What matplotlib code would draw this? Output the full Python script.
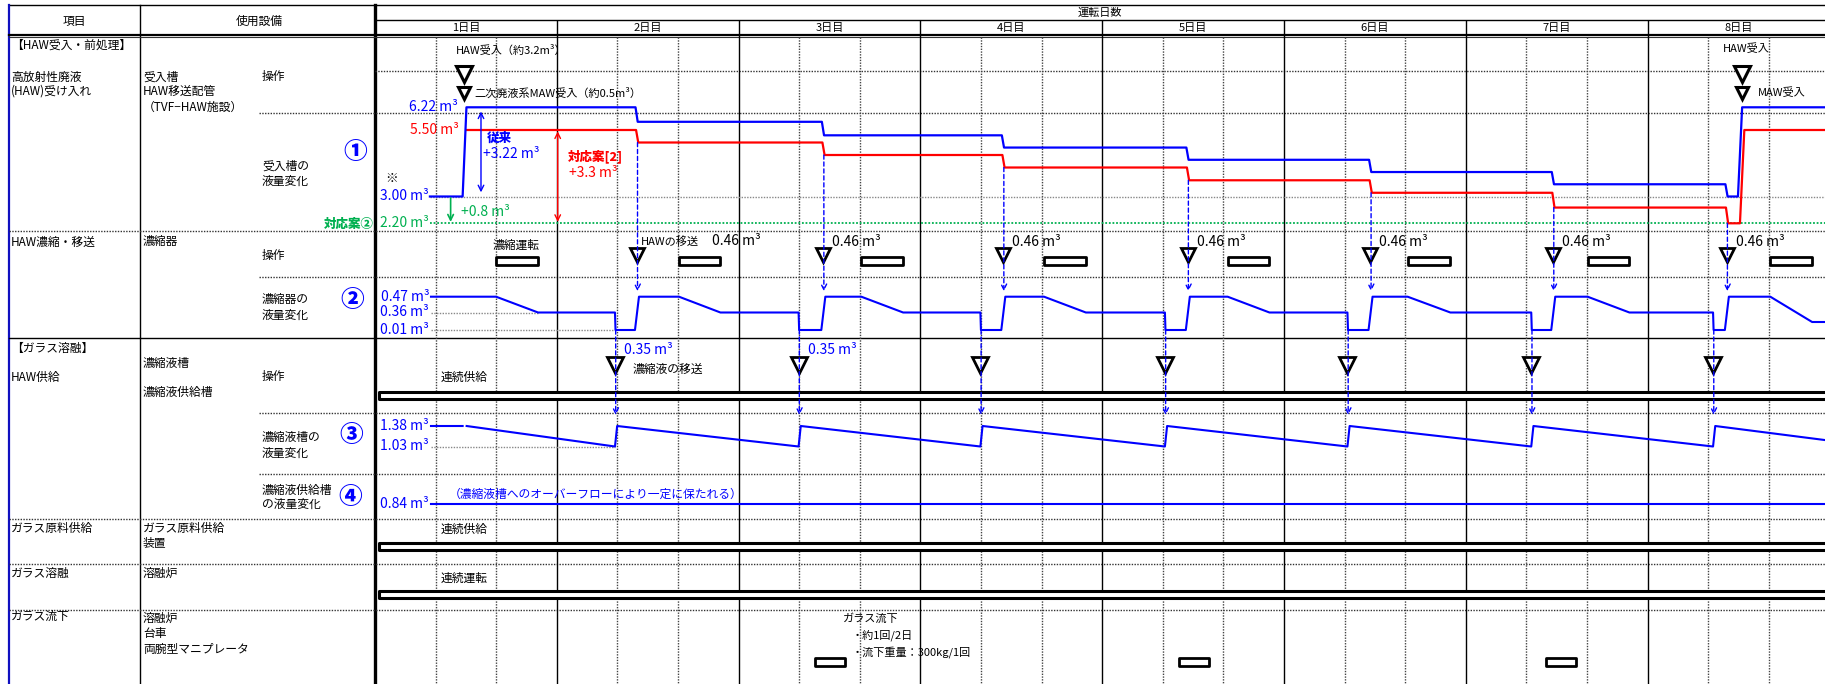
## Operation schedule chart (HAW receiving / evaporation / vitrification)
import numpy as np
import matplotlib
matplotlib.use('Agg')
import matplotlib.pyplot as plt
from matplotlib.patches import ConnectionPatch

plt.rcParams['font.family'] = ['Noto Sans CJK JP', 'DejaVu Sans']

## -----------------------
## Data (time in days from the start of 1日目)
days = ['1日目', '2日目', '3日目', '4日目', '5日目', '6日目', '7日目', '8日目']

recv_t = [0.49, 7.52]                                   # HAW / MAW受入
haw_t = [1.44, 2.465, 3.455, 4.47, 5.475, 6.48, 7.435]  # HAWの移送
conc_t = [1.32, 2.33, 3.33, 4.345, 5.349, 6.36, 7.36]   # 濃縮液の移送
evap_start = [0.666, 1.672, 2.675, 3.68, 4.69, 5.68, 6.67, 7.675]
evap_end = [0.897, 1.90, 2.905, 3.91, 4.92, 5.915, 6.90, 7.905]
pour_t = [2.42, 4.42, 6.44]                             # ガラス流下
pour_len = 0.165

## ① 受入槽 (m3)
conv_levels = [6.22, 5.76, 5.30, 4.84, 4.38, 3.92, 3.46, 3.00]   # 従来
plan_levels = [5.50, 5.03, 4.56, 4.09, 3.61, 3.14, 2.67, 2.20]   # 対応案[2]
recv_init = 3.00
plan_base = 2.20
## ② 濃縮器
evap_hi, evap_mid, evap_lo = 0.47, 0.36, 0.01
evap_end_val = [0.36, 0.36, 0.36, 0.36, 0.36, 0.36, 0.36, 0.17]
## ③ 濃縮液槽
conc_hi, conc_lo, conc_last = 1.38, 1.03, 1.14
## ④ 濃縮液供給槽
feed_level = 0.84

## left-hand table text
col1_text = ['【HAW受入・前処理】', '高放射性廃液', '(HAW)受け入れ', 'HAW濃縮・移送', '【ガラス溶融】',
             'HAW供給', 'ガラス原料供給', 'ガラス溶融', 'ガラス流下']
col2_text = ['受入槽', 'HAW移送配管', '（TVF−HAW施設）', '濃縮器', '濃縮液槽', '濃縮液供給槽',
             'ガラス原料供給', '装置', '溶融炉', '溶融炉', '台車', '両腕型マニプレータ']
col3_text = ['操作', '受入槽の', '液量変化', '操作', '濃縮器の', '液量変化', '操作', '濃縮液槽の',
             '液量変化', '濃縮液供給槽', 'の液量変化']
circled = ['①', '②', '③', '④']

## -----------------------
## Layout (pixels)
W, H = 1825, 684
x_tl = 375
day_px = 181.8
col1_y = [45, 77, 91, 242, 348, 377, 528, 573, 616]
col2_y = [77, 91, 107, 242, 363, 392, 528, 543, 573, 618, 633, 649]
col3_y = [76, 166, 181, 255, 300, 315, 376, 437, 453, 490, 504]
circ_xy = [(355, 152), (352, 300), (351, 435), (350, 497)]

BLUE = '#0000ff'
RED = '#ff0000'
GREEN = '#00b050'
DOT = (0, (1, 1))

fig = plt.figure(figsize=(W / 100, H / 100), dpi=100)

ax0 = fig.add_axes([0, 0, 1, 1])
ax0.set_xlim(0, W)
ax0.set_ylim(H, 0)
ax0.axis('off')

rect = [x_tl / W, 0, (W - x_tl) / W, 1]
t_max = (W - x_tl) / day_px
axt = fig.add_axes(rect)
axt.set_xlim(0, t_max)
axt.set_ylim(H, 0)
axt.axis('off')
axt.patch.set_alpha(0)


def lin_extrap(x, xp, fp):
    x = np.asarray(x, dtype=float)
    y = np.interp(x, xp, fp)
    s0 = (fp[1] - fp[0]) / (xp[1] - xp[0])
    s1 = (fp[-1] - fp[-2]) / (xp[-1] - xp[-2])
    y = np.where(x < xp[0], fp[0] + (x - xp[0]) * s0, y)
    y = np.where(x > xp[-1], fp[-1] + (x - xp[-1]) * s1, y)
    return y


## one transparent axes per level panel, value axis placed by anchor rows
def level_axes(vals, px):
    ax = fig.add_axes(rect, sharex=axt)
    neg = [-p for p in px]
    ax.set_yscale('function', functions=(lambda v: lin_extrap(v, vals, neg),
                                         lambda s: lin_extrap(s, neg, vals)))
    ax.set_ylim(float(lin_extrap(-H, neg, vals)), float(lin_extrap(0, neg, vals)))
    ax.axis('off')
    ax.patch.set_alpha(0)
    return ax


## -----------------------
## Table frame
ax0.plot([9, W], [5, 5], color='black', lw=1)
ax0.plot([9, 9], [5, H], color='#1010c0', lw=1.6)
ax0.plot([140, 140], [5, H], color='black', lw=1)
ax0.plot([x_tl, x_tl], [5, H], color='black', lw=2.4)
ax0.plot([x_tl, W], [20, 20], color='black', lw=1)
ax0.plot([9, W], [34.5, 34.5], color='black', lw=1.6)
ax0.plot([9, W], [37, 37], color='#333333', lw=0.8)
for y in [231, 519, 564, 610]:
    ax0.plot([9, W], [y, y], color='#333333', lw=1, ls=DOT)
ax0.plot([9, W], [337.5, 337.5], color='black', lw=1)
for y in [113, 277, 413, 474]:
    ax0.plot([259, W], [y, y], color='#333333', lw=1, ls=DOT)
ax0.plot([x_tl, W], [71, 71], color='#333333', lw=1, ls=DOT)

ax0.text(74, 21, '項目', ha='center', va='center', fontsize=8.5)
ax0.text(259, 21, '使用設備', ha='center', va='center', fontsize=8.5)
for s, y in zip(col1_text, col1_y):
    ax0.text(11, y, s, ha='left', va='center', fontsize=8.5)
for s, y in zip(col2_text, col2_y):
    ax0.text(143, y, s, ha='left', va='center', fontsize=8.5)
for s, y in zip(col3_text, col3_y):
    ax0.text(262, y, s, ha='left', va='center', fontsize=8.5)
for s, (x, y) in zip(circled, circ_xy):
    ax0.text(x, y, s, ha='center', va='center', fontsize=17, color=BLUE, fontweight='heavy')

## -----------------------
## Timeline grid and header
axt.text(t_max / 2, 12.5, '運転日数', ha='center', va='center', fontsize=8)
for i, d in enumerate(days):
    axt.text(i + 0.5, 28, d, ha='center', va='center', fontsize=8)
axt.vlines(np.arange(1, len(days)), 20, H, color='black', lw=1)
sub_t = [d + k / 3 for d in range(len(days)) for k in (1, 2)]
axt.vlines(sub_t, 37, H, color='#444444', lw=1, linestyles=DOT)

## operation rows
axt.plot(recv_t, [73.5] * len(recv_t), 'v', ms=11, mfc='white', mec='black', mew=2.2)
axt.plot(recv_t, [93] * len(recv_t), 'v', ms=8.5, mfc='white', mec='black', mew=2.2)
axt.text(0.446, 50, 'HAW受入（約3.2m³）', ha='left', va='center', fontsize=8)
axt.text(0.545, 93, '二次廃液系MAW受入（約0.5m³）', ha='left', va='center', fontsize=8)
axt.text(recv_t[1] - 0.105, 49, 'HAW受入', ha='left', va='center', fontsize=8)
axt.text(recv_t[1] + 0.087, 93, 'MAW受入', ha='left', va='center', fontsize=8)
axt.text(0.055, 178, '※', ha='left', va='center', fontsize=9)

axt.broken_barh([(s, e - s) for s, e in zip(evap_start, evap_end)], (256.5, 8),
                facecolor='white', edgecolor='black', lw=2, zorder=3)
axt.text(0.776, 245, '濃縮運転', ha='center', va='center', fontsize=8.5)
axt.plot(haw_t, [255] * len(haw_t), 'v', ms=10, mfc='white', mec='black', mew=2, zorder=4)
axt.text(haw_t[0] + 0.02, 241, 'HAWの移送', ha='left', va='center', fontsize=8)
axt.text(1.853, 241, '0.46 m³', ha='left', va='center', fontsize=10)
for th in haw_t[1:]:
    axt.text(th + 0.05, 242, '0.46 m³', ha='left', va='center', fontsize=10)

axt.plot(conc_t, [365] * len(conc_t), 'v', ms=12, mfc='white', mec='black', mew=2, zorder=4)
for tc in conc_t[:2]:
    axt.text(tc + 0.05, 350, '0.35 m³', ha='left', va='center', fontsize=10, color=BLUE)
axt.text(conc_t[0] + 0.095, 369, '濃縮液の移送', ha='left', va='center', fontsize=8.5)

for yb, label, ylab in [(391.5, '連続供給', 377), (543, '連続供給', 529), (591, '連続運転', 578)]:
    axt.broken_barh([(0.02, t_max + 0.5)], (yb, 7), facecolor='white', edgecolor='black',
                    lw=2.2, zorder=3)
    axt.text(0.36, ylab, label, ha='left', va='center', fontsize=8.5)

axt.broken_barh([(p, pour_len) for p in pour_t], (658, 8), facecolor='white',
                edgecolor='black', lw=2, zorder=3)
axt.text(2.574, 619, 'ガラス流下', ha='left', va='center', fontsize=8)
axt.text(2.62, 635, '・約1回/2日', ha='left', va='center', fontsize=8)
axt.text(2.62, 652, '・流下重量：300kg/1回', ha='left', va='center', fontsize=8)

## -----------------------
## ① 受入槽の液量変化
ax1 = level_axes([2.20, 3.00, 5.50, 6.22], [223.3, 196.5, 130, 107.3])
ax1.plot([0.302, t_max], [recv_init] * 2, color='#888888', lw=1, ls=DOT)
ax1.plot([0.302, t_max], [plan_base] * 2, color=GREEN, lw=1.3, ls=DOT)

tb = [0.302, 0.482, 0.503]
vb = [recv_init, recv_init, conv_levels[0]]
tr = [0.503]
vr = [plan_levels[0]]
for i, th in enumerate(haw_t):
    tb += [th - 0.007, th + 0.005]
    vb += [conv_levels[i], conv_levels[i + 1]]
    tr += [th - 0.004, th + 0.008]
    vr += [plan_levels[i], plan_levels[i + 1]]
tb += [recv_t[1] - 0.023, recv_t[1], t_max]
vb += [conv_levels[-1], conv_levels[0], conv_levels[0]]
tr += [recv_t[1] - 0.012, recv_t[1] + 0.012, t_max]
vr += [plan_levels[-1], plan_levels[0], plan_levels[0]]
ax1.plot(tr, vr, color=RED, lw=1.6)
ax1.plot(tb, vb, color=BLUE, lw=1.6)

ax1.text(0.457, conv_levels[0], '6.22 m³', ha='right', va='center', fontsize=10, color=BLUE)
ax1.text(0.460, plan_levels[0], '5.50 m³', ha='right', va='center', fontsize=10, color=RED)
ax1.text(0.298, recv_init, '3.00 m³', ha='right', va='center', fontsize=10, color=BLUE)
ax1.text(0.298, plan_base, '2.20 m³', ha='right', va='center', fontsize=10, color=GREEN)
ax1.text(-0.004, plan_base, '対応案②', ha='right', va='center', fontsize=9, color=GREEN,
         fontweight='heavy')

ax1.annotate('', xy=(0.583, recv_init), xytext=(0.583, conv_levels[0]),
             arrowprops=dict(arrowstyle='<->', color=BLUE, lw=1, shrinkA=3, shrinkB=3))
ax1.annotate('', xy=(1.005, plan_base), xytext=(1.005, plan_levels[0]),
             arrowprops=dict(arrowstyle='<->', color=RED, lw=1, shrinkA=1, shrinkB=1))
ax1.annotate('', xy=(0.416, plan_base), xytext=(0.416, recv_init),
             arrowprops=dict(arrowstyle='->', color=GREEN, lw=1.2, shrinkA=1, shrinkB=1))
ax1.text(0.615, 5.2, '従来', ha='left', va='center', fontsize=9, color=BLUE, fontweight='heavy')
ax1.text(0.592, 4.58, '+3.22 m³', ha='left', va='center', fontsize=10, color=BLUE)
ax1.text(1.06, 4.52, '対応案[2]', ha='left', va='center', fontsize=9, color=RED, fontweight='heavy')
ax1.text(1.067, 3.9, '+3.3 m³', ha='left', va='center', fontsize=10, color=RED)
ax1.text(0.471, 2.55, '+0.8 m³', ha='left', va='center', fontsize=10, color=GREEN)

## -----------------------
## ② 濃縮器の液量変化
ax2 = level_axes([evap_lo, evap_mid, evap_hi], [330, 312.5, 296.7])
ax2.plot([0.308, evap_end[0]], [evap_mid] * 2, color='#888888', lw=1, ls=DOT)
ax2.plot([0.308, conc_t[0]], [evap_lo] * 2, color='#888888', lw=1, ls=DOT)
te = [0.308, evap_start[0], evap_end[0]]
ve = [evap_hi, evap_hi, evap_end_val[0]]
for i in range(len(conc_t)):
    te += [conc_t[i], conc_t[i] + 0.003, haw_t[i] - 0.01, haw_t[i] + 0.012,
           evap_start[i + 1], evap_end[i + 1]]
    ve += [evap_end_val[i], evap_lo, evap_lo, evap_hi, evap_hi, evap_end_val[i + 1]]
te += [t_max]
ve += [evap_end_val[-1]]
ax2.plot(te, ve, color=BLUE, lw=1.5)
for v in [evap_hi, evap_mid, evap_lo]:
    ax2.text(0.298, v, f'{v:.2f} m³', ha='right', va='center', fontsize=10, color=BLUE)

## ③ 濃縮液槽の液量変化
ax3 = level_axes([conc_lo, conc_hi], [446.5, 426])
ax3.plot([0.308, conc_t[0]], [conc_lo] * 2, color='#888888', lw=1, ls=DOT)
tc = [0.308, 0.482, np.nan, 0.504]
vc = [conc_hi, conc_hi, np.nan, conc_hi]
for t in conc_t:
    tc += [t, t + 0.012]
    vc += [conc_lo, conc_hi]
tc += [t_max]
vc += [conc_last]
ax3.plot(tc, vc, color=BLUE, lw=1.5)
for v in [conc_hi, conc_lo]:
    ax3.text(0.298, v, f'{v:.2f} m³', ha='right', va='center', fontsize=10, color=BLUE)

## ④ 濃縮液供給槽の液量変化
ax4 = level_axes([0.0, feed_level], [530, 504])
ax4.plot([0.308, t_max], [feed_level] * 2, color=BLUE, lw=1.5)
ax4.text(0.298, feed_level, f'{feed_level:.2f} m³', ha='right', va='center', fontsize=10,
         color=BLUE)
ax4.text(0.407, feed_level + 0.3, '（濃縮液槽へのオーバーフローにより一定に保たれる）',
         ha='left', va='center', fontsize=8.5, color=BLUE)

## -----------------------
## transfer arrows between panels
for i, th in enumerate(haw_t):
    con = ConnectionPatch(xyA=(th + 0.004, plan_levels[i + 1]), coordsA='data', axesA=ax1,
                          xyB=(th + 0.004, evap_hi), coordsB='data', axesB=ax2,
                          arrowstyle='->', color=BLUE, lw=1, ls=(0, (3, 2)), shrinkB=4)
    fig.add_artist(con)
for t in conc_t:
    con = ConnectionPatch(xyA=(t + 0.004, evap_lo), coordsA='data', axesA=ax2,
                          xyB=(t + 0.004, conc_hi), coordsB='data', axesB=ax3,
                          arrowstyle='->', color=BLUE, lw=1, ls=(0, (3, 2)), shrinkB=8)
    fig.add_artist(con)

fig.savefig('out.png', dpi=100)
